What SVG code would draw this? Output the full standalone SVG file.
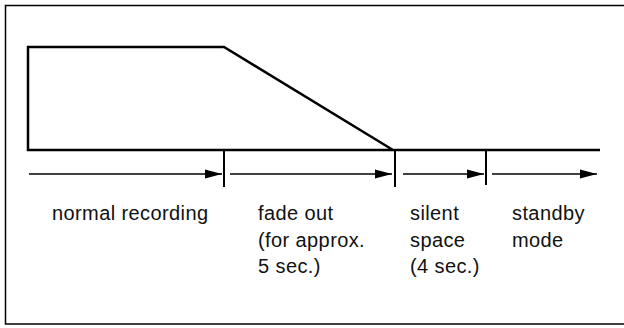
<svg xmlns="http://www.w3.org/2000/svg" width="624" height="328" viewBox="0 0 624 328">
<style>
.frame{fill:none;stroke:#000;stroke-width:1.5}
.wave{fill:none;stroke:#000;stroke-width:2.5;stroke-linejoin:miter}
.tick{stroke:#000;stroke-width:2}
.arr{stroke:#000;stroke-width:1.5;fill:none}
text{font-family:"Liberation Sans",Arial,sans-serif;font-size:20px;letter-spacing:0.4px;fill:#111}
</style>
<defs>
<marker id="ah" markerUnits="userSpaceOnUse" markerWidth="18" markerHeight="10" refX="17" refY="5" orient="auto">
<path d="M0,0.5 L17,5 L0,9.5 Z" fill="#000"/>
</marker>
</defs>
<rect width="624" height="328" fill="#fff"/>
<path class="frame" d="M624,5.5 H5.5 V324 H624"/>
<g id="waveform">
<path class="wave" d="M393,150 L224,47 H28 V150 H600"/>
</g>
<g id="connectors">
<line class="tick" x1="224" y1="150" x2="224" y2="187"/>
<line class="tick" x1="395" y1="150" x2="395" y2="187"/>
<line class="tick" x1="486" y1="150" x2="486" y2="185"/>
<line class="arr" x1="29" y1="174" x2="222" y2="174" marker-end="url(#ah)"/>
<line class="arr" x1="230" y1="174" x2="392" y2="174" marker-end="url(#ah)"/>
<line class="arr" x1="403" y1="174" x2="484" y2="174" marker-end="url(#ah)"/>
<line class="arr" x1="492" y1="174" x2="597" y2="174" marker-end="url(#ah)"/>
</g>
<g id="normal-recording"><text x="52" y="220">normal recording</text></g>
<g id="fade-out"><text x="258" y="220">fade out</text><text x="258" y="247">(for approx.</text><text x="258" y="273">5 sec.)</text></g>
<g id="silent-space"><text x="410" y="220">silent</text><text x="410" y="247">space</text><text x="410" y="273">(4 sec.)</text></g>
<g id="standby-mode"><text x="512" y="220">standby</text><text x="512" y="247">mode</text></g>
</svg>
